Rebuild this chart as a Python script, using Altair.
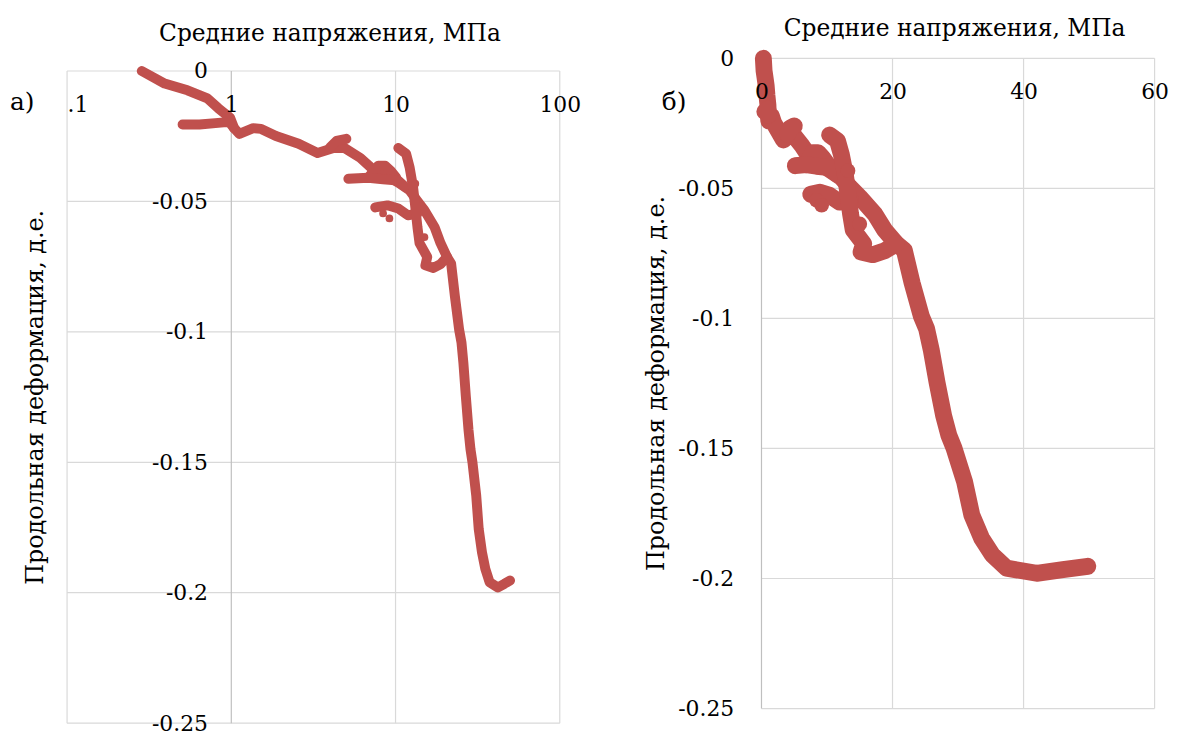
import altair as alt
import pandas as pd

# ---------------- data ----------------
# main loading path: mean stress (MPa) vs axial strain (fraction)
main_x = [0.285, 0.393, 0.541, 0.715, 0.834, 0.985, 1.04, 1.12, 1.36, 1.52, 1.87, 2.57, 3.35,
          4.19, 4.89, 6.10, 7.11, 8.40, 10.4, 12.2, 13.5, 15.0, 17.3, 18.8, 20.6, 21.8, 23.0,
          24.4, 25.2, 25.9, 26.8, 27.8, 28.6, 29.4, 31.0, 32.1, 33.6, 35.2, 37.4, 42.0, 46.0,
          49.8]
main_y = [0.0, -0.0048, -0.0074, -0.0105, -0.0143, -0.018, -0.0219, -0.0241, -0.0219, -0.0222,
          -0.0249, -0.0279, -0.0314, -0.0295, -0.0295, -0.0333, -0.0371, -0.0394, -0.0428,
          -0.0458, -0.0496, -0.0534, -0.0599, -0.066, -0.0713, -0.0738, -0.0865, -0.0992,
          -0.104, -0.112, -0.1247, -0.1374, -0.145, -0.150, -0.1628, -0.1756, -0.1845, -0.1908,
          -0.196, -0.198, -0.1966, -0.1953]
# unloading / reloading branches
b_x = [0.505, 0.64, 0.80, 0.97, 1.04]
b_y = [-0.0205, -0.0205, -0.0200, -0.0195, -0.0219]
hook_x = [4.0, 4.37, 5.02]
hook_y = [-0.0292, -0.0268, -0.026]
cloop_x = [6.82, 7.84, 8.64, 9.33, 10.1]
cloop_y = [-0.0409, -0.0363, -0.0363, -0.0382, -0.0409]
cflat_x = [5.16, 6.82, 8.4, 10.4, 11.5]
cflat_y = [-0.0413, -0.0409, -0.0415, -0.0420, -0.0445]
d_x = [7.52, 8.93, 10.4, 11.9, 13.6]
d_y = [-0.0523, -0.0515, -0.0527, -0.0553, -0.0546]
e_x = [10.4, 11.6, 12.2, 12.8, 13.2, 13.6, 14.0, 15.6, 15.2, 17.0, 18.8, 20.6]
e_y = [-0.0295, -0.0317, -0.0371, -0.0447, -0.0523, -0.0599, -0.066, -0.0713, -0.0745,
       -0.0755, -0.0740, -0.0713]
# isolated points
dots_x = [13.2, 15.0, 8.40, 9.18]
dots_y = [-0.0432, -0.0637, -0.0546, -0.0565]

# axis ticks / texts
y_ticks = [0, -0.05, -0.1, -0.15, -0.2, -0.25]
a_x_ticks = [0.1, 1, 10, 100]
b_x_ticks = [0, 20, 40, 60]
x_title = "Средние напряжения, МПа"
y_title = "Продольная деформация, д.е."
panel_labels = ["а)", "б)"]

# ---------------- tables ----------------
seg_names = ["main", "b", "hook", "cloop", "cflat", "d", "e"]
seg_x = [main_x, b_x, hook_x, cloop_x, cflat_x, d_x, e_x]
seg_y = [main_y, b_y, hook_y, cloop_y, cflat_y, d_y, e_y]
rows = []
for name, xs, ys in zip(seg_names, seg_x, seg_y):
    for i, (xv, yv) in enumerate(zip(xs, ys)):
        rows.append({"seg": name, "i": i, "x": xv, "y": yv})
curve = pd.DataFrame(rows)
dots = pd.DataFrame({"x": dots_x, "y": dots_y})

RED = "#C0504D"
GRID = "#D9D9D9"
AXISC = "#BFBFBF"
FONT = "DejaVu Serif"
LBL = 22
TTL = 23.5
YTTL = 24

WA, HA = 496.3, 669.7
A_GAP = 12.8
A_TOP = 0.25 * A_GAP / (HA - A_GAP)
WB, HB = 396, 655

y_fmt = "replace(format(datum.value, '.2~f'), '−', '-')"


def common_axis(**kw):
    base = dict(grid=False, domain=False, ticks=False, tickSize=0, labelFont=FONT,
                labelFontSize=LBL, labelColor="#000000", labelFlush=False, labelOverlap=False,
                titleFont=FONT, titleFontWeight="normal", titleColor="#000000",
                titleAlign="center", titleBaseline="middle", zindex=1)
    base.update(kw)
    return alt.Axis(**base)


# ---------------- panel a (log x) ----------------
ax_xa = common_axis(orient="bottom", offset=-(HA - A_GAP), values=a_x_ticks, labelPadding=24,
                    labelExpr="datum.value < 0.5 ? '.1' : datum.label",
                    labelAlign={"condition": {"test": "datum.value < 0.5", "value": "left"},
                                "value": "center"},
                    title=x_title, titleFontSize=TTL, titleX=264.3, titleY=-38)
ax_ya = common_axis(orient="left", offset=-WA / 3, values=y_ticks, labelPadding=24,
                    labelExpr=y_fmt, title=y_title, titleFontSize=YTTL, titleAngle=270,
                    titleX=-197.2, titleY=341)
sx_a = alt.Scale(type="log", domain=[0.1, 100], nice=False)
sy_a = alt.Scale(domain=[-0.25, A_TOP], nice=False, zero=False)
Xa = alt.X("x:Q", scale=sx_a, axis=ax_xa)
Ya = alt.Y("y:Q", scale=sy_a, axis=ax_ya)

va = pd.DataFrame({"x": a_x_ticks, "y": [0] * 4, "y2": [-0.25] * 4,
                   "c": [GRID, AXISC, GRID, GRID]})
ha = pd.DataFrame({"y": y_ticks, "x": [a_x_ticks[0]] * 6, "x2": [a_x_ticks[-1]] * 6})

a_hgrid = alt.Chart(ha).mark_rule(strokeWidth=1.2, color=GRID).encode(x=Xa, x2="x2:Q", y=Ya)
a_vgrid = alt.Chart(va).mark_rule(strokeWidth=1.2).encode(
    x=Xa, y=Ya, y2="y2:Q", color=alt.Color("c:N", scale=None))
a_line = alt.Chart(curve).mark_line(strokeWidth=10, strokeCap="round", strokeJoin="round",
                                    color=RED).encode(x=Xa, y=Ya, detail="seg:N", order="i:Q")
a_dots = alt.Chart(dots).mark_circle(size=60, color=RED, opacity=1).encode(x=Xa, y=Ya)
a_lab = alt.Chart(pd.DataFrame({"t": [panel_labels[0]]})).mark_text(
    font=FONT, fontSize=25, align="center", baseline="middle", color="#000000").encode(
    text="t:N", x=alt.value(-45.2), y=alt.value(44.5))

panel_a = alt.layer(a_hgrid, a_vgrid, a_line, a_dots, a_lab).properties(width=WA, height=HA)

# ---------------- panel b (linear x) ----------------
ax_xb = common_axis(orient="bottom", offset=-HB, values=b_x_ticks, labelPadding=24,
                    title=x_title, titleFontSize=TTL, titleX=194, titleY=-30.2)
ax_yb = common_axis(orient="left", offset=0, values=y_ticks, labelPadding=28,
                    labelExpr=y_fmt, title=y_title, titleFontSize=YTTL, titleAngle=270,
                    titleX=-105.5, titleY=327)
sx_b = alt.Scale(domain=[0, 60], nice=False, zero=False)
sy_b = alt.Scale(domain=[-0.25, 0], nice=False, zero=False)
Xb = alt.X("x:Q", scale=sx_b, axis=ax_xb)
Yb = alt.Y("y:Q", scale=sy_b, axis=ax_yb)

vb = pd.DataFrame({"x": b_x_ticks, "y": [0] * 4, "y2": [-0.25] * 4,
                   "c": [AXISC, GRID, GRID, GRID]})
hb = pd.DataFrame({"y": y_ticks, "x": [b_x_ticks[0]] * 6, "x2": [b_x_ticks[-1]] * 6})

b_hgrid = alt.Chart(hb).mark_rule(strokeWidth=1.2, color=GRID).encode(x=Xb, x2="x2:Q", y=Yb)
b_vgrid = alt.Chart(vb).mark_rule(strokeWidth=1.2).encode(
    x=Xb, y=Yb, y2="y2:Q", color=alt.Color("c:N", scale=None))
b_line = alt.Chart(curve).mark_line(strokeWidth=17, strokeCap="round", strokeJoin="round",
                                    color=RED).encode(x=Xb, y=Yb, detail="seg:N", order="i:Q")
b_dots = alt.Chart(dots).mark_circle(size=220, color=RED, opacity=1).encode(x=Xb, y=Yb)
b_lab = alt.Chart(pd.DataFrame({"t": [panel_labels[1]]})).mark_text(
    font=FONT, fontSize=25, align="center", baseline="middle", color="#000000").encode(
    text="t:N", x=alt.value(-88), y=alt.value(44.5))

panel_b = alt.layer(b_hgrid, b_vgrid, b_line, b_dots, b_lab).properties(width=WB, height=HB)

chart = alt.hconcat(panel_a, panel_b, spacing=63.5).properties(
    padding={"left": 1.5, "top": 5, "right": 0, "bottom": 0},
    background="white",
).configure_view(stroke=None)

chart.save("out.html", embed_options={"renderer": "svg", "actions": False})
